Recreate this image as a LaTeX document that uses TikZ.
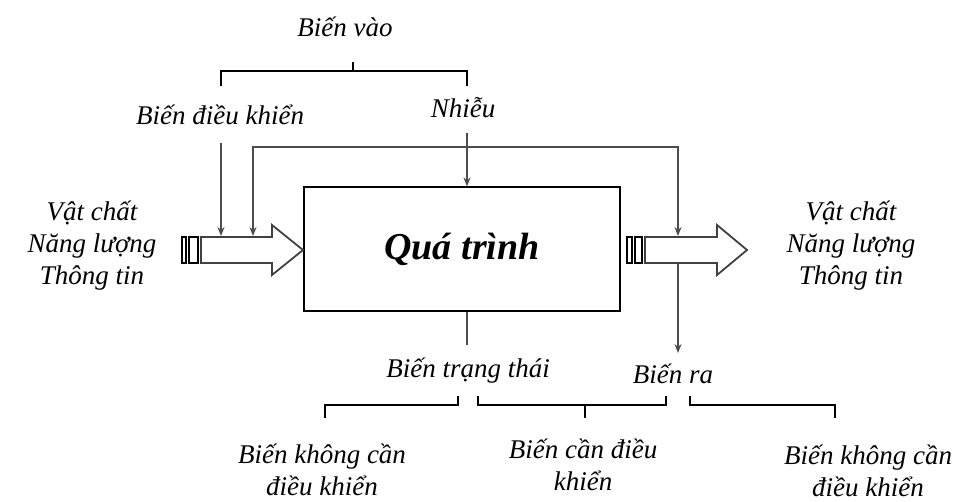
\documentclass[tikz,border=0pt]{standalone}
\usepackage{fontspec}
\setmainfont{Liberation Serif}
\usetikzlibrary{arrows.meta}
\begin{document}
\begin{tikzpicture}[x=1pt,y=-1pt,
  lbl/.style={font=\itshape\fontsize{27}{32}\selectfont, align=center, inner sep=0pt},
  wire/.style={draw=black!70, line width=1.5pt},
  arr/.style={wire, -{Stealth[length=9pt,width=7pt]}},
  brk/.style={draw=black, line width=1.2pt},
  fat/.style={draw=black!75, line width=1.8pt, fill=white, line join=miter},
  stub/.style={draw=black, line width=1.2pt, fill=white}]
\useasboundingbox (0,0) rectangle (968,502);

% process box
\node[draw, line width=1.2pt, minimum width=316pt, minimum height=124pt,
      font=\bfseries\itshape\fontsize{38}{40}\selectfont] (proc) at (462,249) {Quá trình};

% labels
\node[lbl] (vao) at (345,27) {Biến vào};
\node[lbl] (dk) at (220,115) {Biến điều khiển};
\node[lbl] (nhieu) at (463,108) {Nhiễu};
\node[lbl] (inL) at (92,246) {Vật chất\\Năng lượng\\Thông tin};
\node[lbl] (outL) at (851,246) {Vật chất\\Năng lượng\\Thông tin};
\node[lbl] (tt) at (468,371) {Biến trạng thái};
\node[lbl] (ra) at (673,374) {Biến ra};
\node[lbl] (k1) at (322,470) {Biến không cần\\điều khiển};
\node[lbl] (c1) at (583,465) {Biến cần điều\\khiển};
\node[lbl] (k2) at (868,471) {Biến không cần\\điều khiển};

% input block arrow
\draw[stub] (182,237) rectangle (186,263);
\draw[stub] (189,237) rectangle (198,263);
\draw[fat] (201,237) -- (272,237) -- (272,225) -- (303,250) -- (272,275) -- (272,263) -- (201,263) -- cycle;
% output block arrow
\draw[stub] (627,237) rectangle (632,263);
\draw[stub] (635,237) rectangle (642,263);
\draw[fat] (645,237) -- (717,237) -- (717,225) -- (747,250) -- (717,275) -- (717,263) -- (645,263) -- cycle;

\coordinate (inTopA) at (221,236);
\coordinate (inTopB) at (253,236);
\coordinate (outTop) at (678,236);
\coordinate (outBot) at (678,264);
\coordinate (raTip) at (678,353);
\coordinate (fbY) at (0,147);

% control and disturbance inputs
\draw[arr] (221,143) -- (inTopA);
\draw[arr] (467,133) -- (proc.north -| 467,0);
% feedback line
\draw[wire, {Stealth[length=9pt,width=7pt]}-{Stealth[length=9pt,width=7pt]}]
  (inTopB) -- (inTopB |- fbY) -- (outTop |- fbY) -- (outTop);
% output variable
\draw[arr] (outBot) -- (raTip);
% state stub
\draw[wire] (proc.south -| 467,0) -- (467,345);

% top bracket
\draw[brk] (221,86) -- (221,71) -- (467,71) -- (467,86);
\draw[brk] (353,71) -- (353,62);

% bottom brackets
\draw[brk] (325,418) -- (325,405) -- (458,405) -- (458,396);
\draw[brk] (478,396) -- (478,405) -- (666,405) -- (666,396);
\draw[brk] (585,405) -- (585,418);
\draw[brk] (690,396) -- (690,405) -- (835,405) -- (835,418);
\end{tikzpicture}
\end{document}
